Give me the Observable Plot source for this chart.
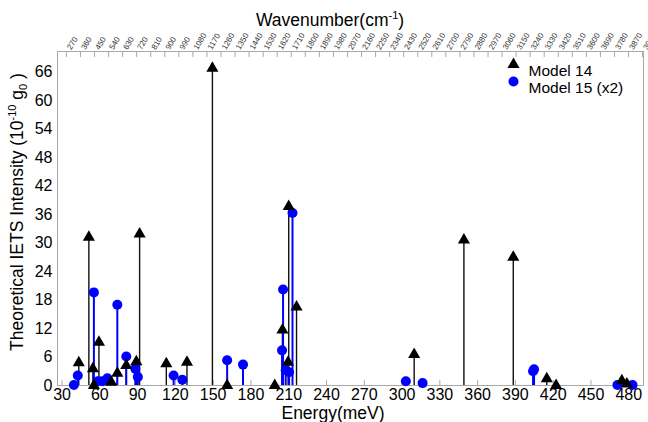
<!DOCTYPE html>
<html><head><meta charset="utf-8">
<script src="https://cdn.jsdelivr.net/npm/d3@7"></script>
<script src="https://cdn.jsdelivr.net/npm/@observablehq/plot@0.6"></script>
<style>body{margin:0;background:#fff} #chart{position:relative;width:648px;height:422px}</style>
</head><body><div id="chart"></div>
<script>
// Model 14 (black triangles)
const model14Energy    = [43.3, 51.3, 54.5, 55.3, 59.3, 69.1, 73.9, 81.0, 89.0, 91.6, 112.8, 129.2, 149.4, 161.1, 198.9, 205.0, 209.5, 210.0, 216.2, 309.6, 349.1, 388.3, 414.9, 422.3, 474.5, 478.5];
const model14Intensity = [4.8, 31.2, 3.5, 0.0, 9.1, 0.7, 2.6, 4.2, 5.0, 31.9, 4.6, 4.9, 66.8, 0.0, 0.0, 11.7, 4.9, 37.7, 16.5, 6.5, 30.6, 27.0, 1.4, 0.0, 1.0, 0.3];
// Model 15 (x2) (blue circles)
const model15Energy    = [39.4, 42.5, 55.3, 58.5, 62.0, 66.0, 73.9, 81.0, 88.2, 90.2, 118.6, 125.5, 161.1, 173.7, 204.7, 205.5, 207.6, 210.3, 213.0, 303.0, 316.3, 404.0, 404.8, 471.0, 483.0];
const model15Intensity = [0.1, 2.1, 19.6, 0.9, 0.9, 1.5, 17.0, 6.1, 3.5, 1.8, 2.1, 1.2, 5.3, 4.4, 7.4, 20.2, 3.2, 2.8, 36.3, 0.9, 0.5, 3.0, 3.4, 0.1, 0.1];

const energyTicks = [30, 60, 90, 120, 150, 180, 210, 240, 270, 300, 330, 360, 390, 420, 450, 480];
const intensityTicks = [0, 6, 12, 18, 24, 30, 36, 42, 48, 54, 60, 66];
const wavenumberTicks = [270, 360, 450, 540, 630, 720, 810, 900, 990, 1080, 1170, 1260, 1350, 1440, 1530, 1620, 1710, 1800, 1890, 1980, 2070, 2160, 2250, 2340, 2430, 2520, 2610, 2700, 2790, 2880, 2970, 3060, 3150, 3240, 3330, 3420, 3510, 3600, 3690, 3780, 3870, 3960];
const legendLabels = ["Model 14", "Model 15 (x2)"];
const CM_PER_MEV = 8.06554;

const W = 648, H = 422, mL = 57, mR = 5, mT = 51, mB = 37;
const plotH = H - mT - mB;
const m14 = model14Energy.map((e, i) => ({e, v: model14Intensity[i]}));
const m15 = model15Energy.map((e, i) => ({e, v: model15Intensity[i]}));
const topTicks = wavenumberTicks.map(w => ({w, e: w / CM_PER_MEV}));
const FONT = "'Liberation Sans', Arial, sans-serif";
const BLUE = "#0000ff";

const chart = Plot.plot({
  width: W, height: H,
  marginLeft: mL, marginRight: mR, marginTop: mT, marginBottom: mB,
  style: {fontFamily: FONT, background: "#fff", overflow: "visible", color: "#000"},
  x: {domain: [26.4, 491.7]},
  y: {domain: [0, 70.3]},
  marks: [
    Plot.frame({stroke: "#a8a8a8"}),
    Plot.axisY({ticks: intensityTicks, tickSize: 0, tickPadding: 5, fontSize: 16, label: null}),
    Plot.axisX({anchor: "bottom", ticks: energyTicks, tickSize: 0, tickPadding: 3, fontSize: 16, label: null}),
    Plot.ruleX(energyTicks, {insetTop: plotH - 5, stroke: "#a8a8a8"}),
    Plot.ruleX(topTicks, {x: "e", insetBottom: plotH - 6, stroke: "#a8a8a8"}),
    Plot.text(topTicks, {x: "e", text: d => String(d.w), frameAnchor: "top", dy: -4, rotate: -60, textAnchor: "start", fontSize: 8, fill: "#333"}),
    Plot.ruleX(m14, {x: "e", y1: 0, y2: "v", stroke: "#111", strokeWidth: 1.4}),
    Plot.ruleX(m15, {x: "e", y1: 0, y2: "v", stroke: BLUE, strokeWidth: 2}),
    Plot.dot(m15, {x: "e", y: "v", r: 5, fill: BLUE, symbol: "circle"}),
    Plot.dot(m14, {x: "e", y: "v", r: 4.5, fill: "#000", symbol: "triangle"}),
    // legend
    Plot.dot([legendLabels[0]], {frameAnchor: "top-left", dx: 456, dy: 13, symbol: "triangle", r: 4.5, fill: "#000"}),
    Plot.dot([legendLabels[1]], {frameAnchor: "top-left", dx: 456, dy: 30, symbol: "circle", r: 5, fill: BLUE}),
    Plot.text([legendLabels[0]], {text: d => d, frameAnchor: "top-left", dx: 471, dy: 13, textAnchor: "start", fontSize: 15.5, fill: "#000"}),
    Plot.text([legendLabels[1]], {text: d => d, frameAnchor: "top-left", dx: 471, dy: 30, textAnchor: "start", fontSize: 15.5, fill: "#000"})
  ]
});
document.getElementById("chart").appendChild(chart);

// titles with super/subscripts
const svg = d3.select(chart);
const ty = svg.append("text")
  .attr("transform", "translate(23,212) rotate(-90)")
  .attr("text-anchor", "middle").attr("font-size", 17.5).attr("font-family", FONT).attr("fill", "#000");
ty.append("tspan").text("Theoretical IETS Intensity (10");
ty.append("tspan").attr("font-size", 11).attr("dy", -7).text("-10");
ty.append("tspan").attr("dy", 7).text(" g");
ty.append("tspan").attr("font-size", 11).attr("dy", 4).text("0");
ty.append("tspan").attr("dy", -4).text(" )");

const tt = svg.append("text")
  .attr("x", 330).attr("y", 26)
  .attr("text-anchor", "middle").attr("font-size", 17.5).attr("font-family", FONT).attr("fill", "#000");
tt.append("tspan").text("Wavenumber(cm");
tt.append("tspan").attr("font-size", 11).attr("dy", -7).text("-1");
tt.append("tspan").attr("dy", 7).text(")");

svg.append("text")
  .attr("x", 333).attr("y", 419)
  .attr("text-anchor", "middle").attr("font-size", 17.5).attr("font-family", FONT).attr("fill", "#000")
  .text("Energy(meV)");
</script>
</body></html>
